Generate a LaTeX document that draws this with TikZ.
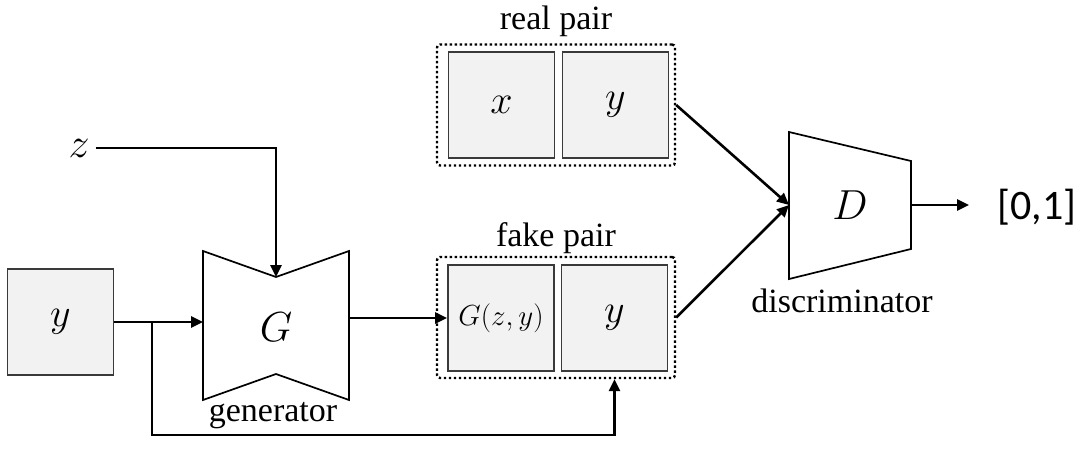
\documentclass[tikz,border=0pt]{standalone}
\usepackage{fix-cm}
\usepackage{fontspec}
\setmainfont{Liberation Serif}
\newfontfamily\carl{Carlito}
\usetikzlibrary{arrows.meta}
\definecolor{boxfill}{HTML}{F2F2F2}
\definecolor{boxline}{HTML}{3A3A3A}
\begin{document}
\begin{tikzpicture}[x=1pt,y=-1pt,
  cell/.style={draw=boxline,line width=1.8pt,fill=boxfill,minimum width=106pt,minimum height=106pt,inner sep=0pt,font=\fontsize{40}{40}\selectfont},
  pairbox/.style={draw,line width=2.4pt,dash pattern=on 2.4pt off 2.6pt,rounded corners=3pt,minimum width=238pt,minimum height=121pt,inner sep=0pt},
  conn/.style={line width=2.6pt,-{Triangle[length=12pt,width=11pt]}},
  plainline/.style={line width=2.6pt},
  block/.style={draw,line width=1.7pt,fill=white,line join=miter},
  lbl/.style={font=\fontsize{34}{34}\selectfont,inner sep=0pt},
  mathlbl/.style={font=\fontsize{42}{42}\selectfont,inner sep=0pt}]
\useasboundingbox (0,0) rectangle (1084,468);

% input y
\node[cell] (yin) at (60.5,322) {$y$};

% z
\node[mathlbl,inner sep=6pt] (z) at (79,148) {$z$};

% generator
\draw[block] (203,251) -- (276,277) -- (349,251) -- (349,400) -- (276,374) -- (203,400) -- cycle;
\node[mathlbl] (G) at (276,327) {$G$};
\coordinate (Gin) at (203,322);
\coordinate (Gtop) at (276,277);
\coordinate (Gout) at (349,318);
\node[lbl] (gen) at (273,416) {generator};

% pairs
\node[pairbox] (real) at (556,105) {};
\node[cell] (rx) at (501.5,105) {$x$};
\node[cell] (ry) at (615.5,105) {$y$};
\node[lbl] (reallbl) at (556,21) {real pair};

\node[pairbox] (fake) at (556,317.5) {};
\node[cell,font=\fontsize{29}{29}\selectfont] (fg) at (501,318) {$G(z,y)$};
\node[cell] (fy) at (614.5,318) {$y$};
\node[lbl] (fakelbl) at (556,238) {fake pair};

% discriminator
\draw[block] (789,132) -- (911,161) -- (911,249) -- (789,279) -- cycle;
\node[mathlbl] (D) at (850,205) {$D$};
\coordinate (Din) at (789,205);
\coordinate (Dout) at (911,205);
\node[lbl] (disc) at (842,301) {discriminator};

% output
\node[font=\carl\fontsize{42}{42}\selectfont,inner sep=0pt] (res) at (1037,207) {[0,1]};
\coordinate (resin) at (969,205);

% connectors
\draw[conn] (z.east) -| (Gtop);
\draw[conn] (yin.east) -- (Gin);
\coordinate (br) at (152,322);
\coordinate (bot) at (152,435);
\draw[conn] (br) -- (bot) -| (fy |- fake.south);
\draw[conn] (Gout) -- (fg.west);
\draw[conn] (real.east) -- (Din);
\draw[conn] (fake.east) -- (Din);
\draw[conn] (Dout) -- (resin);
\end{tikzpicture}
\end{document}
